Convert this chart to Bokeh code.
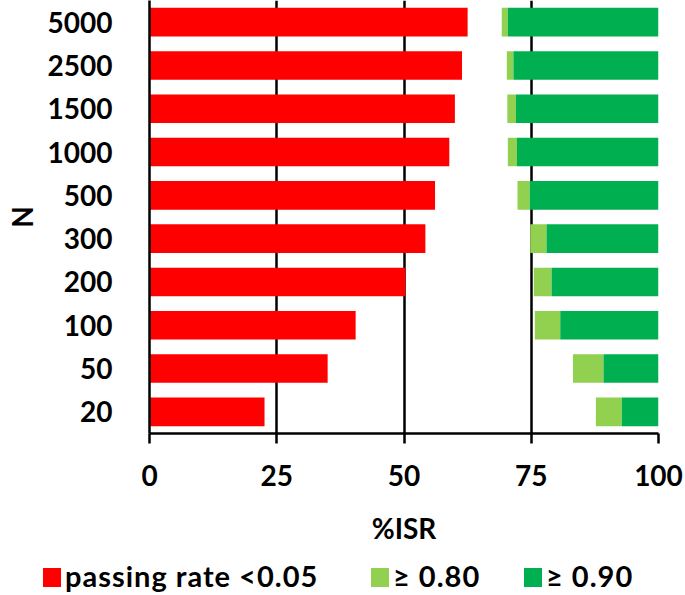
from bokeh.plotting import figure
from bokeh.layouts import column
from bokeh.models import FactorRange, ColumnDataSource, FixedTicker, Range1d, Div
from bokeh.embed import file_html
from bokeh.resources import INLINE

# ---- data ----
sample_sizes = ["5000", "2500", "1500", "1000", "500", "300", "200", "100", "50", "20"]
pct_isr_pass_lt005 = [62.5, 61.4, 60.0, 58.9, 56.1, 54.2, 50.3, 40.5, 35.0, 22.6]
pct_isr_power_ge080 = [30.8, 29.8, 29.7, 29.6, 27.7, 25.2, 24.5, 24.3, 16.8, 12.3]
pct_isr_power_ge090 = [29.6, 28.5, 28.0, 27.8, 25.3, 22.0, 21.0, 19.3, 10.8, 7.2]
x_ticks = [0, 25, 50, 75, 100]
legend_labels = ["passing rate &lt;0.05", "\u2265 0.80", "\u2265 0.90"]
x_title = "%ISR"
y_title = "N"

FONT = "Lato"
FS = "28px"
RED, LIGHT, DARK = "#FF0000", "#92D050", "#00B050"
LW = 2.5

src = ColumnDataSource(dict(
    n=sample_sizes,
    red=pct_isr_pass_lt005,
    light_left=[100 - v for v in pct_isr_power_ge080],
    light_right=[100 - v for v in pct_isr_power_ge090],
    dark_left=[100 - v for v in pct_isr_power_ge090],
    full=[100] * len(sample_sizes),
))

p = figure(
    y_range=FactorRange(factors=list(reversed(sample_sizes))),
    x_range=Range1d(0, 100),
    width=685, height=550,
    output_backend="svg", toolbar_location=None,
    min_border_left=149, min_border_right=27, min_border_top=0, min_border_bottom=117,
)
p.outline_line_color = None

p.hbar(y="n", left=0, right="red", height=0.66, source=src, fill_color=RED, line_color=None)
p.hbar(y="n", left="light_left", right="light_right", height=0.66, source=src, fill_color=LIGHT, line_color=None)
p.hbar(y="n", left="dark_left", right="full", height=0.66, source=src, fill_color=DARK, line_color=None)

# x axis
p.xaxis.ticker = FixedTicker(ticks=x_ticks)
p.xaxis.major_tick_out = 10
p.xaxis.major_tick_in = 0
p.xaxis.minor_tick_line_color = None
p.xaxis.axis_line_width = LW
p.xaxis.major_tick_line_width = LW
p.xaxis.axis_line_color = "black"
p.xaxis.major_tick_line_color = "black"
p.xaxis.major_label_standoff = 21
p.xaxis.axis_label = x_title
p.xaxis.axis_label_standoff = 22

# y axis
p.yaxis.major_tick_line_color = None
p.yaxis.major_tick_out = 0
p.yaxis.major_tick_in = 0
p.yaxis.minor_tick_line_color = None
p.yaxis.axis_line_width = LW
p.yaxis.axis_line_color = "black"
p.yaxis.major_label_standoff = 37
p.yaxis.axis_label = y_title
p.yaxis.axis_label_standoff = 6

for ax in (p.xaxis, p.yaxis):
    ax.major_label_text_font = FONT
    ax.major_label_text_font_size = FS
    ax.major_label_text_font_style = "bold"
    ax.major_label_text_color = "black"
    ax.axis_label_text_font = FONT
    ax.axis_label_text_font_size = FS
    ax.axis_label_text_font_style = "bold"
    ax.axis_label_text_color = "black"

p.xgrid.ticker = FixedTicker(ticks=x_ticks)
p.xgrid.grid_line_color = "black"
p.xgrid.grid_line_width = LW
p.ygrid.grid_line_color = None

# legend strip below the chart
swatch_colors = [RED, LIGHT, DARK]
item_left = [43, 371, 524]
parts = []
for lab, c, x0 in zip(legend_labels, swatch_colors, item_left):
    parts.append(
        f'<span style="position:absolute;left:{x0}px;top:18px;width:18px;height:19px;'
        f'background:{c};"></span>'
        f'<span style="position:absolute;left:{x0 + 22}px;top:11px;line-height:30px;'
        f'white-space:nowrap;">{lab}</span>'
    )
html = ('<div style="position:relative;width:685px;height:45px;font-family:Lato;'
        'font-weight:bold;font-size:29px;letter-spacing:1px;color:#000;">'
        + "".join(parts) + "</div>")
leg = Div(text=html, width=685, height=45, margin=0)

layout = column(p, leg, spacing=0)
open("out.html", "w").write(file_html(layout, INLINE))
